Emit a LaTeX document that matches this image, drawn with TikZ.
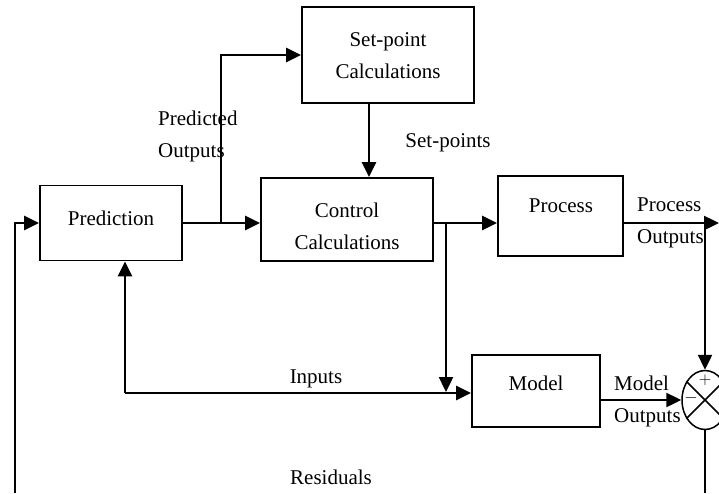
\documentclass[tikz,border=0pt]{standalone}
\usepackage{fontspec}
\setmainfont{Liberation Serif}
\usetikzlibrary{arrows.meta,shapes.geometric}
\begin{document}
\begin{tikzpicture}[x=1pt,y=-1pt,
 box/.style={draw,line width=1.8pt,inner sep=0pt},
 conn/.style={line width=2.4pt},
 arr/.style={conn,-{Triangle[length=15pt,width=14pt]}},
 lbl/.style={font=\fontsize{21}{32}\selectfont,inner sep=0pt,align=center},
 lbll/.style={lbl,align=left,anchor=west},
 sgn/.style={font=\fontsize{18}{18}\selectfont,inner sep=0pt}]
\useasboundingbox (0,0) rectangle (719,493);
% boxes
\node[box,minimum width=172pt,minimum height=96pt] (sp) at (388,55) {};
\node[box,minimum width=142pt,minimum height=75pt] (pred) at (111,223) {};
\node[box,minimum width=172pt,minimum height=83pt] (ctrl) at (347,219.5) {};
\node[box,minimum width=125pt,minimum height=80pt] (proc) at (560.5,216) {};
\node[box,minimum width=128pt,minimum height=72pt] (model) at (536,391) {};
\node[draw,ellipse,line width=1.5pt,minimum width=46pt,minimum height=59pt,inner sep=0pt] (sum) at (705,400) {};
\draw[line width=1.5pt] (sum.45) -- (sum.225) (sum.135) -- (sum.315);
% texts
\node[lbl] (tsp) at (388,56) {Set-point\\Calculations};
\node[lbl] (tpred) at (111,218) {Prediction};
\node[lbl] (tctrl) at (347,226) {Control\\Calculations};
\node[lbl] (tproc) at (561,206) {Process};
\node[lbl] (tmodel) at (536,383) {Model};
\node[lbll] (lpo) at (158,136.5) {Predicted\\Outputs};
\node[lbl] (lsp) at (448,143) {Set-points};
\node[lbll] (lpr) at (637,223) {Process\\Outputs};
\node[lbll] (lmo) at (614,401.5) {Model\\Outputs};
\node[lbl] (lin) at (316,379) {Inputs};
\node[lbl] (lres) at (331,477) {Residuals};
\node[sgn] (plus) at (705,380) {$+$};
\node[sgn] (minus) at (691,398) {$-$};
% coordinates
\coordinate (lv) at (0,223);
\coordinate (b1) at (221,223);
\coordinate (b2) at (446,223);
\coordinate (b2e) at (446,392);
\coordinate (spo) at (369,103);
\coordinate (inl) at (125,393);
\coordinate (b3) at (705,223);
\coordinate (po) at (719,223);
\coordinate (bot) at (0,493);
\coordinate (fb) at (15,493);
% connectors
\draw[arr] (pred.east) -- (pred.east -| ctrl.west);
\draw[arr] (b1) |- (sp.west);
\draw[arr] (spo) -- (spo |- ctrl.north);
\draw[arr] (ctrl.east |- lv) -- (proc.west |- lv);
\draw[arr] (b2) -- (b2e);
\draw[arr] (inl) -- (inl |- pred.south);
\draw[arr] (inl) -- (model.west |- inl);
\draw[arr] (proc.east |- lv) -- (po);
\draw[arr] (b3) -- (sum.north);
\draw[arr] (model.east |- sum.west) -- (sum.west);
\draw[conn] (sum.south) -- (sum.south |- bot);
\draw[arr] (fb) |- (pred.west);
\end{tikzpicture}
\end{document}
